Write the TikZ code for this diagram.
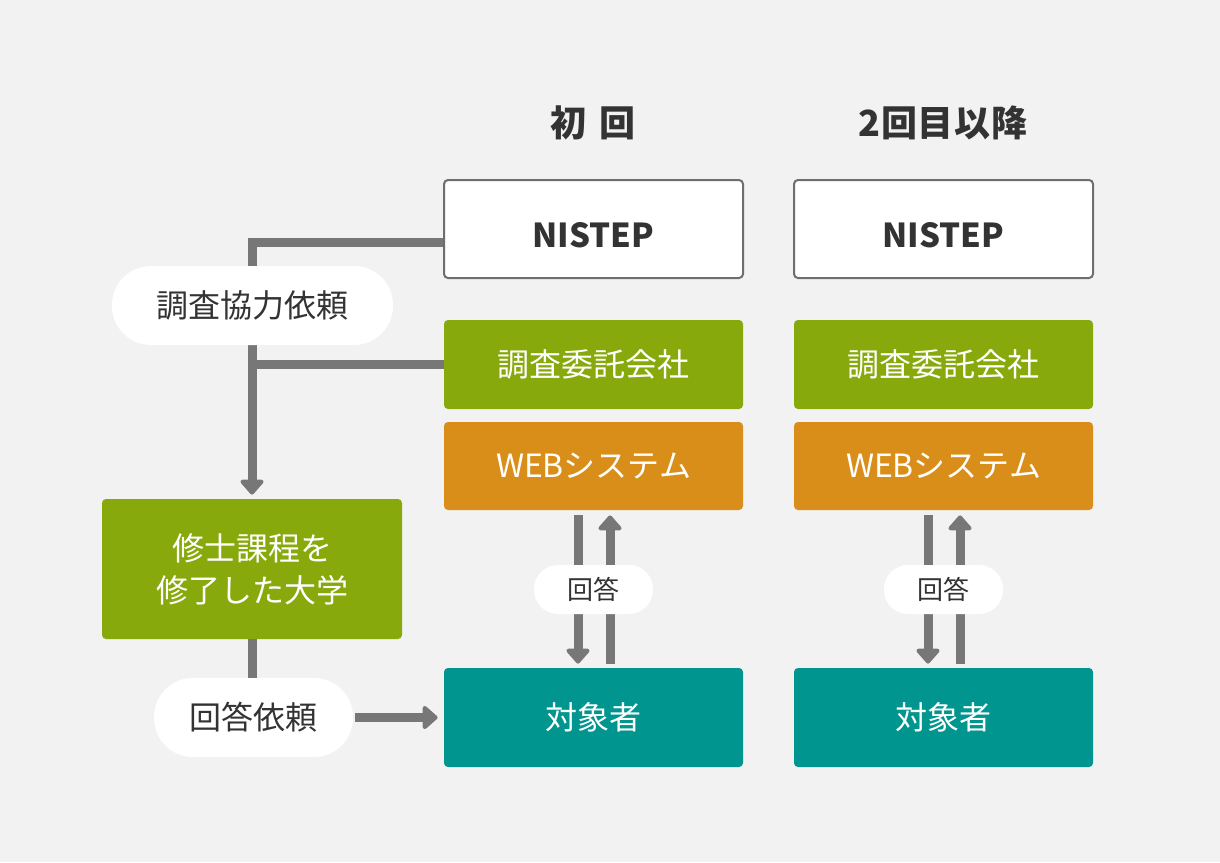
\documentclass[tikz,border=0pt]{standalone}
\usepackage{fontspec}
\setmainfont{Noto Sans CJK JP}
\newfontfamily\headfont[LetterSpace=2]{Noto Sans CJK JP}
\usetikzlibrary{arrows.meta,calc,positioning}
\definecolor{FlowPaper}{HTML}{F2F2F2}
\definecolor{FlowInk}{HTML}{333333}
\definecolor{FlowGray}{HTML}{777777}
\definecolor{FlowEdge}{HTML}{6E6E6E}
\definecolor{FlowGreen}{HTML}{87A90B}
\definecolor{FlowOrange}{HTML}{D98E1A}
\definecolor{FlowTeal}{HTML}{00958F}

\begin{document}
\begin{tikzpicture}[x=0.5pt,y=-0.5pt,font=\fontsize{16}{21}\selectfont,
    boxnode/.style={rounded corners=2pt,minimum width=149.5pt,align=center,text=white,inner sep=0pt},
    pillnode/.style={fill=white,rounded corners=19.5pt,minimum height=39.5pt,text=FlowInk,inner sep=0pt},
    headnode/.style={text=FlowInk,font=\fontsize{18}{21}\headfont\bfseries},
    wire/.style={draw=FlowGray,line width=4.5pt},
    tip/.style={-{Triangle[width=13.5pt,length=8pt,round]}}]
  \useasboundingbox[fill=FlowPaper] (0,0) rectangle (1220,862);

  % column headings
  \node[headnode] (head1) at (593,122.5) {初\hspace{0.35em}回};
  \node[headnode] (head2) at (943,122.5) {2回目以降};

  % first time
  \node[boxnode,fill=white,draw=FlowEdge,line width=1pt,minimum height=49pt,text=FlowInk,font=\fontsize{16.5}{21}\selectfont\bfseries] (nis1) at (593.5,229) {\raisebox{-3pt}[\height][0pt]{NISTEP}};
  \node[boxnode,fill=FlowGreen,minimum height=44.5pt] (com1) at (593.5,364.5) {調査委託会社};
  \node[boxnode,fill=FlowOrange,minimum height=44pt] (web1) at (593.5,466) {WEBシステム};
  \node[boxnode,fill=FlowTeal,minimum height=49.5pt] (tgt1) at (593.5,717.5) {対象者};

  % second time onward
  \node[boxnode,fill=white,draw=FlowEdge,line width=1pt,minimum height=49pt,text=FlowInk,font=\fontsize{16.5}{21}\selectfont\bfseries] (nis2) at (943.5,229) {\raisebox{-3pt}[\height][0pt]{NISTEP}};
  \node[boxnode,fill=FlowGreen,minimum height=44.5pt] (com2) at (943.5,364.5) {調査委託会社};
  \node[boxnode,fill=FlowOrange,minimum height=44pt] (web2) at (943.5,466) {WEBシステム};
  \node[boxnode,fill=FlowTeal,minimum height=49.5pt] (tgt2) at (943.5,717.5) {対象者};

  % university
  \node[boxnode,fill=FlowGreen,minimum width=150pt,minimum height=70pt] (univ) at (252,569) {修士課程を\\修了した大学};

  % connectors
  \coordinate (turn) at (252,242);
  \draw[wire,tip,shorten >=2pt] (nis1.west |- turn) -- (turn) -- (univ.north);
  \draw[wire] (com1.west) -- (com1.west -| turn);
  \draw[wire] (univ.south) -- ++(0,40) coordinate (askTop);
  \draw[wire,tip] ($(web1.south)+(-15.5,5)$) -- ($(tgt1.north)+(-15.5,-4)$);
  \draw[wire,tip] ($(tgt1.north)+(16.5,-4)$) -- ($(web1.south)+(16.5,5)$);
  \draw[wire,tip] ($(web2.south)+(-15.5,5)$) -- ($(tgt2.north)+(-15.5,-4)$);
  \draw[wire,tip] ($(tgt2.north)+(16.5,-4)$) -- ($(web2.south)+(16.5,5)$);

  % request labels
  \node[pillnode,minimum width=140.5pt] (reqCoop) at (252.5,305.5) {調査協力依頼};
  \node[pillnode,minimum width=99.5pt] (reqAns) at (253.5,717.5) {回答依頼};
  \node[pillnode,minimum width=59.5pt,minimum height=24.5pt,rounded corners=12pt,font=\fontsize{13}{16}\selectfont] (ans1) at (593.5,589.5) {回答};
  \node[pillnode,minimum width=59.5pt,minimum height=24.5pt,rounded corners=12pt,font=\fontsize{13}{16}\selectfont] (ans2) at (943.5,589.5) {回答};
  \draw[wire,tip,shorten <=1pt,shorten >=3pt] (reqAns.east) -- (tgt1.west);
\end{tikzpicture}
\end{document}
